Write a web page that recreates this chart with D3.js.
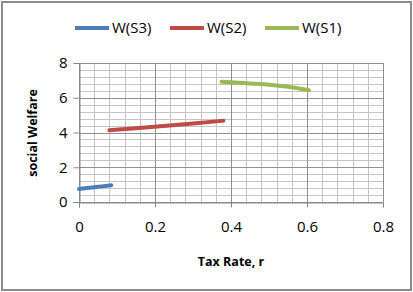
<!DOCTYPE html>
<html>
<head>
<meta charset="utf-8">
<script src="https://cdn.jsdelivr.net/npm/d3@7"></script>
<style>
  body { margin: 0; background: #fff; }
  text { font-family: "Open Sans", "Liberation Sans", sans-serif; }
</style>
</head>
<body>
<div id="chart"></div>
<script>
var width = 413;
var height = 292;

// series (tax rate r, social welfare)
var s3X = [0, 0.02, 0.04, 0.06, 0.085];
var s3Y = [0.75, 0.80, 0.85, 0.90, 0.97];
var s2X = [0.08, 0.15, 0.23, 0.30, 0.38];
var s2Y = [4.13, 4.25, 4.39, 4.52, 4.68];
var s1X = [0.375, 0.42, 0.47, 0.52, 0.56, 0.605];
var s1Y = [6.92, 6.87, 6.80, 6.70, 6.60, 6.43];

var seriesNames = ["W(S3)", "W(S2)", "W(S1)"];
var seriesColors = ["#4a7ebb", "#be4b48", "#98b954"];
var xTicks = [0, 0.2, 0.4, 0.6, 0.8];
var yTicks = [0, 2, 4, 6, 8];

var margin = {left: 79, right: 30, top: 63, bottom: 90};

var svg = d3.select("#chart").append("svg")
    .attr("width", width)
    .attr("height", height);

// outer frame
svg.append("rect")
    .attr("x", 2).attr("y", 2)
    .attr("width", width - 4).attr("height", height - 4)
    .attr("fill", "#fff")
    .attr("stroke", "#8c8c8c")
    .attr("stroke-width", 2);

var x = d3.scaleLinear().domain([0, 0.8]).range([margin.left, width - margin.right]);
var y = d3.scaleLinear().domain([0, 8]).range([height - margin.bottom, margin.top]);

var g = svg.append("g");

// minor grid
var minorX = d3.range(0, 0.8001, 0.04);
var minorY = d3.range(0, 8.001, 0.4);
g.selectAll(".mx").data(minorX).join("line")
    .attr("x1", d => Math.round(x(d)) + 0.5).attr("x2", d => Math.round(x(d)) + 0.5)
    .attr("y1", y(0)).attr("y2", y(8))
    .attr("stroke", "#c4c4c4").attr("stroke-width", 1);
g.selectAll(".my").data(minorY).join("line")
    .attr("y1", d => Math.round(y(d)) + 0.5).attr("y2", d => Math.round(y(d)) + 0.5)
    .attr("x1", x(0)).attr("x2", x(0.8))
    .attr("stroke", "#c4c4c4").attr("stroke-width", 1);

// major grid
g.selectAll(".Mx").data(xTicks).join("line")
    .attr("x1", d => Math.round(x(d)) + 0.5).attr("x2", d => Math.round(x(d)) + 0.5)
    .attr("y1", y(0)).attr("y2", y(8))
    .attr("stroke", "#8f8f8f").attr("stroke-width", 1);
g.selectAll(".My").data(yTicks).join("line")
    .attr("y1", d => Math.round(y(d)) + 0.5).attr("y2", d => Math.round(y(d)) + 0.5)
    .attr("x1", x(0)).attr("x2", x(0.8))
    .attr("stroke", "#8f8f8f").attr("stroke-width", 1);

// axes
var xAxis = svg.append("g")
    .attr("transform", "translate(0," + (Math.round(y(0)) + 0.5) + ")")
    .call(d3.axisBottom(x).tickValues(xTicks).tickFormat(d3.format("")).tickSize(5).tickPadding(14));
var yAxis = svg.append("g")
    .attr("transform", "translate(" + (Math.round(x(0)) + 0.5) + ",0)")
    .call(d3.axisLeft(y).tickValues(yTicks).tickSize(6).tickPadding(6));
[xAxis, yAxis].forEach(a => {
    a.select(".domain").attr("stroke", "#868686");
    a.selectAll(".tick line").attr("stroke", "#868686");
    a.selectAll("text").attr("font-size", 15).attr("fill", "#000")
        .style("font-family", "'Open Sans', sans-serif");
});

// lines
var line = d3.line().x(d => x(d[0])).y(d => y(d[1])).curve(d3.curveMonotoneX);
var data = [
    d3.zip(s3X, s3Y),
    d3.zip(s2X, s2Y),
    d3.zip(s1X, s1Y)
];
svg.selectAll(".series").data(data).join("path")
    .attr("d", line)
    .attr("fill", "none")
    .attr("stroke", (d, i) => seriesColors[i])
    .attr("stroke-width", 4)
    .attr("stroke-linecap", "round");

// legend
var legendX = [75, 170, 265];
var leg = svg.selectAll(".leg").data(seriesNames).join("g")
    .attr("transform", (d, i) => "translate(" + legendX[i] + ",28)");
leg.append("line")
    .attr("x1", 0).attr("x2", 34).attr("y1", 0).attr("y2", 0)
    .attr("stroke", (d, i) => seriesColors[i])
    .attr("stroke-width", 4);
leg.append("text")
    .attr("x", 37).attr("dy", "0.35em")
    .attr("font-size", 15)
    .text(d => d);

// axis titles
svg.append("text")
    .attr("x", 231).attr("y", 266)
    .attr("text-anchor", "middle")
    .attr("font-size", 12.5).attr("font-weight", "bold")
    .text("Tax Rate, r");
svg.append("text")
    .attr("transform", "translate(37,133) rotate(-90)")
    .attr("text-anchor", "middle")
    .attr("font-size", 12.5).attr("font-weight", "bold")
    .text("social Welfare");
</script>
</body>
</html>
